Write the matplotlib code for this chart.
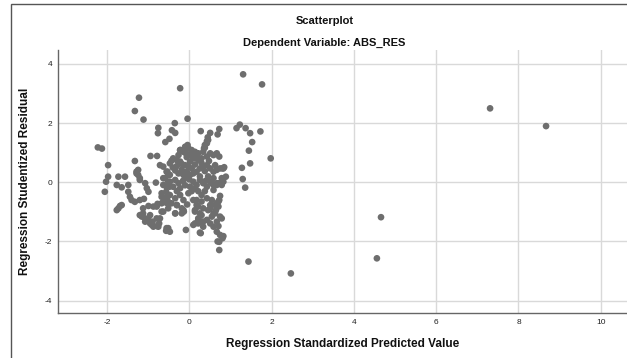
import matplotlib
matplotlib.use("Agg")
import matplotlib.pyplot as plt
from matplotlib.patches import Rectangle

plt.rcParams['font.family'] = ['Liberation Sans', 'DejaVu Sans']

title = "Scatterplot"
subtitle = "Dependent Variable: ABS_RES"
x_label = "Regression Standardized Predicted Value"
y_label = "Regression Studentized Residual"
x_ticks = [-2, 0, 2, 4, 6, 8, 10]
y_ticks = [-4, -2, 0, 2, 4]

points = [
    # outliers / upper points
    (1.31, 3.65), (1.77, 3.31), (-0.22, 3.18), (-1.22, 2.86), (-1.32, 2.41), (-1.11, 2.12),
    (-0.04, 2.15), (7.31, 2.50), (8.67, 1.90), (1.98, 0.81), (4.66, -1.18), (4.56, -2.57),
    (2.47, -3.08), (1.44, -2.68), (0.73, -2.29), (0.69, -2.00),
    (-0.35, 2.00), (-0.75, 1.84), (-0.76, 1.66), (-0.42, 1.76), (-0.34, 1.67), (-0.48, 1.47),
    (-0.58, 1.36), (0.28, 1.73), (0.51, 1.67), (0.73, 1.80), (0.69, 1.62), (0.45, 1.52),
    (0.43, 1.39), (0.38, 1.26), (0.36, 1.15), (1.15, 1.83), (1.23, 1.95), (1.37, 1.83),
    (1.48, 1.66), (1.73, 1.72), (1.53, 1.36), (1.45, 1.07), (-2.22, 1.18), (-2.12, 1.14),
    (-0.04, 1.26), (-0.22, 1.09),
    # right group
    (1.28, 0.49), (1.48, 0.64), (1.30, 0.11), (1.36, -0.18), (0.83, 0.47), (0.89, 0.19),
    (0.83, 0.02), (0.79, -0.09), (0.67, 0.42), (0.75, 0.47), (0.85, 0.51), (0.81, 0.47),
    # left cluster
    (-1.97, 0.58), (-1.97, 0.19), (-2.02, 0.02), (-2.05, -0.32), (-1.72, 0.19), (-1.56, 0.19),
    (-1.76, -0.09), (-1.64, -0.17), (-1.48, -0.09), (-1.48, -0.32), (-1.44, -0.49),
    (-1.40, -0.60), (-1.32, -0.66), (-1.20, -0.60), (-1.10, -0.56), (-1.28, 0.36),
    (-1.24, 0.25), (-1.20, 0.08), (-1.24, 0.42), (-1.28, 0.30), (-1.20, 0.14), (-1.07, -0.03),
    (-1.03, -0.20), (-0.99, -0.32), (-0.81, -0.01), (-1.76, -0.94), (-1.68, -0.80),
    (-1.32, 0.72), (-0.94, 0.89), (-0.78, 0.89), (-0.71, 0.58), (-0.43, 0.73),
    (-0.99, -0.80), (-0.87, -0.82), (-0.77, -0.73), (-0.67, -0.71), (-0.56, -0.69),
    (-1.15, -1.16), (-1.07, -1.22), (-1.12, -1.05), (-0.99, -1.27), (-0.95, -1.11),
    (-0.89, -1.33), (-0.91, -1.44), (-0.71, -1.22), (-0.73, -1.39), (-0.78, -1.48),
    (-0.51, -1.55), (-0.56, -1.64), (-0.67, -0.99), (-0.34, -1.05), (-0.08, -1.61),
    (0.10, -1.44), (0.22, -1.39), (0.28, -1.72),
    (-1.64, -0.77), (-1.72, -0.88), (-1.20, -1.11), (-1.12, -0.88), (-0.79, -0.82),
    (-1.07, -1.33), (-0.95, -1.39), (-0.87, -1.50), (-0.75, -1.50), (-0.79, -1.22),
    # right lower column
    (0.67, -1.67), (0.75, -1.78), (0.83, -1.82), (0.73, -2.01), (0.81, -1.89), (0.67, -1.33),
    (0.71, -1.48), (0.75, -1.16), (0.79, -1.22), (0.59, -1.05), (0.65, -0.94), (0.67, -0.71),
    (0.71, -0.82), (0.73, -0.60), (0.75, -0.46), (0.59, -0.26), (0.67, -0.09), (0.73, -0.03),
    (0.79, 0.14), (0.59, 0.14), (0.55, -0.03),
    (0.43, -0.54), (0.51, -0.77), (0.46, -0.94), (0.34, -0.88), (0.18, -0.60), (0.22, -0.82),
    (0.14, -0.99), (0.30, -1.11), (0.22, -1.27), (0.34, -1.33), (-0.18, -0.88), (-0.13, -0.99),
    (-0.30, -0.77), (-0.43, -0.71), (-0.53, -0.60),
    # lower core
    (-0.67, -0.37), (-0.55, -0.49), (-0.63, -0.66), (-0.47, -0.71), (-0.34, -0.54),
    (-0.22, -0.43), (-0.14, -0.60), (-0.30, -0.77), (-0.14, -0.94), (-0.18, -1.05),
    (-0.34, -1.05), (-0.63, -0.99), (-0.51, -0.88),
    (0.10, -0.60), (0.18, -0.77), (0.14, -0.94), (0.26, -1.05), (0.22, -1.22), (0.30, -1.33),
    (0.14, -1.39), (0.34, -1.50), (0.43, -1.27), (0.51, -1.39), (0.59, -1.50), (0.55, -1.16),
    (0.63, -1.05), (0.51, -0.88), (0.63, -0.77), (0.71, -0.65), (0.55, -0.60),
    (-0.55, -1.55), (-0.47, -1.67), (0.26, -1.70),
    # upper core
    (0.46, 1.43), (0.43, 1.32), (0.38, 1.17), (0.34, 1.03), (-0.10, 1.20), (-0.02, 1.15),
    (0.06, 1.09), (0.14, 1.03), (0.22, 0.98), (0.02, 0.92), (-0.14, 1.03), (-0.22, 1.09),
    (-0.26, 0.92), (0.10, 0.81), (0.22, 0.75), (0.30, 0.81), (0.43, 0.87), (0.51, 0.98),
    (0.59, 0.92), (0.67, 0.98), (0.73, 0.87),
    (-0.39, 0.81), (-0.30, 0.75), (-0.22, 0.70), (-0.47, 0.64),
    (-0.10, 0.58), (-0.02, 0.53), (0.06, 0.47), (-0.06, 0.36), (-0.18, 0.42), (-0.14, 0.25),
    (0.02, 0.25), (0.10, 0.30), (0.18, 0.36), (0.26, 0.47), (0.34, 0.53), (0.43, 0.58),
    (0.51, 0.47), (0.59, 0.36), (0.63, 0.58),
    (-0.63, 0.53), (-0.55, 0.36), (-0.51, 0.25), (-0.63, 0.14), (-0.47, 0.02), (-0.34, 0.08),
    (-0.26, -0.03), (-0.39, -0.15), (-0.55, -0.15), (-0.22, -0.20),
    (0.10, 0.02), (0.18, -0.09), (0.26, 0.08), (0.34, -0.03), (0.43, -0.15), (0.14, -0.20),
    (0.51, 0.02), (0.59, -0.09), (0.67, -0.03),
    (-0.53, 0.36), (-0.47, 0.25), (-0.59, 0.14), (-0.51, 0.02), (-0.63, -0.09), (-0.48, -0.15),
    (-0.56, -0.32), (-0.47, -0.43), (-0.67, -0.49),
    (-0.02, -0.37), (0.06, -0.30), (0.30, -0.43), (0.38, -0.30), (0.00, 0.10), (-0.05, 0.15),
    # additional dense-core points
    (-0.30, 0.55), (-0.18, 0.62), (0.02, 0.70), (0.14, 0.60), (0.30, 0.65), (0.05, 1.00),
    (-0.06, 0.85), (0.18, 0.88), (-0.34, 0.40), (-0.26, 0.30), (0.26, 0.20), (0.38, 0.38),
    (0.46, 0.20), (-0.10, -0.10), (0.02, -0.15), (0.22, -0.30), (-0.30, -0.30), (-0.40, 0.50),
    (0.30, -0.65), (-0.05, -0.75), (0.40, 0.05), (-0.15, 0.05), (0.48, 0.72), (-0.08, 0.98),
]
x_vals = [p[0] for p in points]
y_vals = [p[1] for p in points]

W, H = 627, 358
fig = plt.figure(figsize=(W / 100, H / 100), dpi=100)
fig.patch.set_facecolor('white')

# outer frame (cropped at right/bottom)
fig.patches.append(Rectangle((10.5 / W, -0.05), 1.2, (H - 3.5) / H + 0.05,
                             transform=fig.transFigure, fill=False,
                             edgecolor='#555555', linewidth=1.0))

left, right, bottom, top = 57.5, 627, 313.3, 50
ax = fig.add_axes([left / W, 1 - bottom / H, (right - left) / W, (bottom - top) / H])

# data -> pixel mapping: x0 at 189.2, 41.16 px/unit ; y0 at 182.3, 29.58 px/unit
ax.set_xlim((left - 189.2) / 41.16, (right - 189.2) / 41.16)
ax.set_ylim((182.3 - bottom) / 29.58, (182.3 - top) / 29.58)

ax.set_xticks(x_ticks)
ax.set_yticks(y_ticks)
ax.set_xticklabels([str(t) for t in x_ticks])
ax.set_yticklabels([str(t) for t in y_ticks])
ax.grid(True, color='#d9d9d9', linewidth=1.0)
ax.set_axisbelow(True)
ax.tick_params(length=0, labelsize=6, colors='#222222', pad=4)

for s in ['top', 'right']:
    ax.spines[s].set_visible(False)
for s in ['left', 'bottom']:
    ax.spines[s].set_color('#666666')
    ax.spines[s].set_linewidth(1.0)

ax.scatter(x_vals, y_vals, s=23, color='#6e6e6e', edgecolors='none', zorder=3)

ax.set_xlabel(x_label, fontsize=8.5, fontweight='bold', color='#111111', labelpad=9)
ax.set_ylabel(y_label, fontsize=8.5, fontweight='bold', color='#111111', labelpad=10)

fig.text(325 / W, 1 - 21 / H, title, ha='center', va='center', fontsize=8,
         fontweight='bold', color='#111111')
fig.text(324 / W, 1 - 42.5 / H, subtitle, ha='center', va='center', fontsize=8,
         fontweight='bold', color='#111111')

fig.savefig('out.png', dpi=100)
